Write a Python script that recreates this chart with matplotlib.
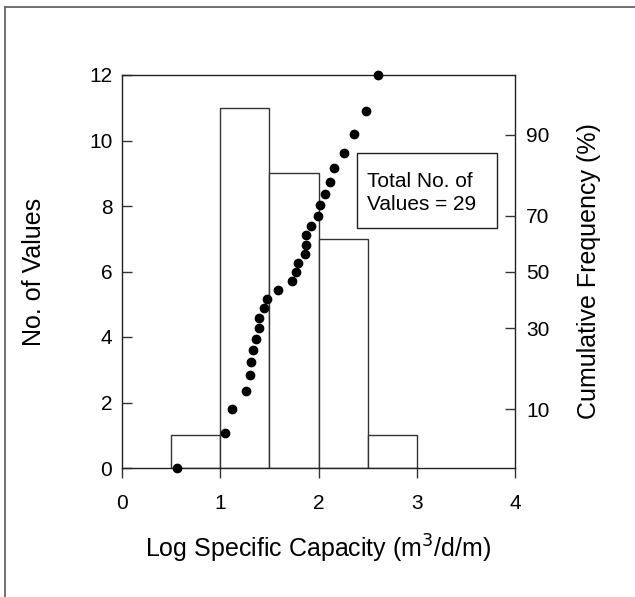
import matplotlib
matplotlib.use('Agg')
import matplotlib.pyplot as plt
from matplotlib.lines import Line2D
from matplotlib.patches import Rectangle
from statistics import NormalDist

plt.rcParams['font.family'] = ['Liberation Sans', 'DejaVu Sans']

# histogram of log specific capacity
bin_edges = [0.5, 1.0, 1.5, 2.0, 2.5, 3.0]
counts = [1, 11, 9, 7, 1]

# cumulative frequency points (x = log specific capacity, y in left-axis units)
cum_x = [0.56, 1.045, 1.116, 1.259, 1.306, 1.316, 1.330, 1.367, 1.391, 1.398,
         1.442, 1.473, 1.585, 1.727, 1.775, 1.789, 1.866, 1.869, 1.873, 1.924,
         1.998, 2.015, 2.063, 2.120, 2.158, 2.260, 2.361, 2.487, 2.609]
cum_y = [0.0, 1.08, 1.79, 2.36, 2.83, 3.24, 3.61, 3.95, 4.28, 4.59,
         4.88, 5.16, 5.44, 5.72, 5.98, 6.27, 6.53, 6.81, 7.10, 7.40,
         7.69, 8.02, 8.37, 8.74, 9.15, 9.62, 10.19, 10.91, 11.99]

# probability-scale ticks on the right axis
prob_ticks = [10, 30, 50, 70, 90]
prob_center, prob_scale = 5.985, 3.273

fig = plt.figure(figsize=(6.35, 5.97), dpi=100)
ax = fig.add_axes([122/635, 1 - 468/597, (515 - 122)/635, (468 - 75)/597])

ax.bar(bin_edges[:-1], counts, width=0.5, align='edge', facecolor='white',
       edgecolor='#333333', linewidth=1.0, zorder=1)
ax.plot(cum_x, cum_y, 'o', color='black', markersize=6, clip_on=False, zorder=3)

ax.set_xlim(0, 4)
ax.set_ylim(0, 12)
ax.set_xticks([0, 1, 2, 3, 4])
ax.set_yticks([0, 2, 4, 6, 8, 10, 12])
ax.tick_params(axis='x', direction='out', length=7, width=1, pad=12, labelsize=15, color='#333333')
ax.tick_params(axis='y', direction='in', length=7, width=1, pad=7, labelsize=15, color='#333333')
for s in ax.spines.values():
    s.set_linewidth(1.0)
    s.set_color('#222222')

ax.set_xlabel('Log Specific Capacity (m$^3$/d/m)', fontsize=18, labelpad=14)
ax.set_ylabel('No. of Values', fontsize=18, labelpad=31)

ax2 = ax.twinx()
ax2.set_ylim(0, 12)
ax2.set_yticks([prob_center + prob_scale * NormalDist().inv_cdf(p / 100) for p in prob_ticks])
ax2.set_yticklabels([str(p) for p in prob_ticks])
ax2.tick_params(axis='y', direction='in', length=7, width=1, pad=8, labelsize=15, color='#333333')
ax2.set_ylabel('Cumulative Frequency (%)', fontsize=18, labelpad=20)
for s in ax2.spines.values():
    s.set_visible(False)

# annotation box
ax.add_patch(Rectangle((2.39, 7.33), 1.427, 2.29, facecolor='white', edgecolor='#222222',
                       linewidth=1.0, zorder=4))
ax.text(2.49, 8.40, 'Total No. of\nValues = 29', fontsize=15, ha='left', va='center',
        linespacing=1.25, zorder=5)

# partial frame around the figure
fig.add_artist(Line2D([5/635, 5/635], [0, 1 - 7/597], transform=fig.transFigure, color='#666666', linewidth=1.3))
fig.add_artist(Line2D([5/635, 1], [1 - 7/597, 1 - 7/597], transform=fig.transFigure, color='#666666', linewidth=1.3))

fig.savefig('out.png', dpi=100)
